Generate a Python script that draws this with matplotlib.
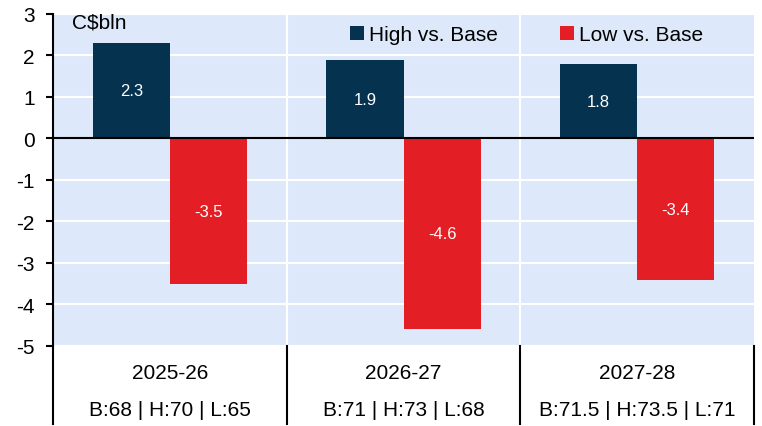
import numpy as np
import matplotlib.pyplot as plt
from matplotlib.lines import Line2D

plt.rcParams['font.family'] = ['Liberation Sans', 'DejaVu Sans']
plt.rcParams['axes.unicode_minus'] = False

# fiscal years and oil price assumptions
years = ['2025-26', '2026-27', '2027-28']
price_labels = ['B:68 | H:70 | L:65', 'B:71 | H:73 | L:68', 'B:71.5 | H:73.5 | L:71']
high_vs_base = [2.3, 1.9, 1.8]
low_vs_base = [-3.5, -4.6, -3.4]

navy = '#04324f'
red = '#e31e24'
bg = '#dde9fa'

fig = plt.figure(figsize=(7.62, 4.27), dpi=100)
ax = fig.add_axes([0.0696, 0.1874, 0.9199, 0.7775])
ax.set_facecolor(bg)

x = np.arange(len(years))
w = 0.33
b1 = ax.bar(x - w / 2, high_vs_base, w, color=navy, label='High vs. Base', zorder=3)
b2 = ax.bar(x + w / 2, low_vs_base, w, color=red, label='Low vs. Base', zorder=3)

for bars, vals in [(b1, high_vs_base), (b2, low_vs_base)]:
    for rect, v in zip(bars, vals):
        ax.text(rect.get_x() + rect.get_width() / 2, v / 2, f'{v:.1f}',
                ha='center', va='center', color='white', fontsize=12, zorder=4)

ax.set_xlim(-0.5, 2.5)
ax.set_ylim(-5, 3)
ax.set_yticks(range(-5, 4))
ax.tick_params(axis='y', direction='out', length=5, width=1.5, labelsize=15, pad=8)
ax.set_xticks([])
ax.grid(axis='y', color='white', linewidth=1.5, zorder=0)
ax.axhline(0, color='black', linewidth=1.5, zorder=5)
for xv in [0.5, 1.5]:
    ax.axvline(xv, color='white', linewidth=1.5, zorder=1)

for s in ['top', 'right', 'bottom']:
    ax.spines[s].set_visible(False)
ax.spines['left'].set_linewidth(1.5)

# category block below the plot
for xf in [0, 1 / 3, 2 / 3, 1]:
    ax.add_line(Line2D([xf, xf], [0, -0.235], transform=ax.transAxes,
                       color='black', linewidth=1.5, clip_on=False))
for i, (yr, pl) in enumerate(zip(years, price_labels)):
    xc = (i + 0.5) / 3
    ax.text(xc, -0.08, yr, transform=ax.transAxes, ha='center', va='center', fontsize=15)
    ax.text(xc, -0.19, pl, transform=ax.transAxes, ha='center', va='center', fontsize=15)

ax.text(0.027, 0.976, 'C$bln', transform=ax.transAxes, ha='left', va='center', fontsize=15)
ax.legend(loc='center left', ncol=2, frameon=False, fontsize=15, handlelength=0.65,
          handleheight=0.65, handletextpad=0.25, columnspacing=3.0,
          borderpad=0, borderaxespad=0, bbox_to_anchor=(0.424, 0.937))

fig.savefig('out.png', dpi=100)
